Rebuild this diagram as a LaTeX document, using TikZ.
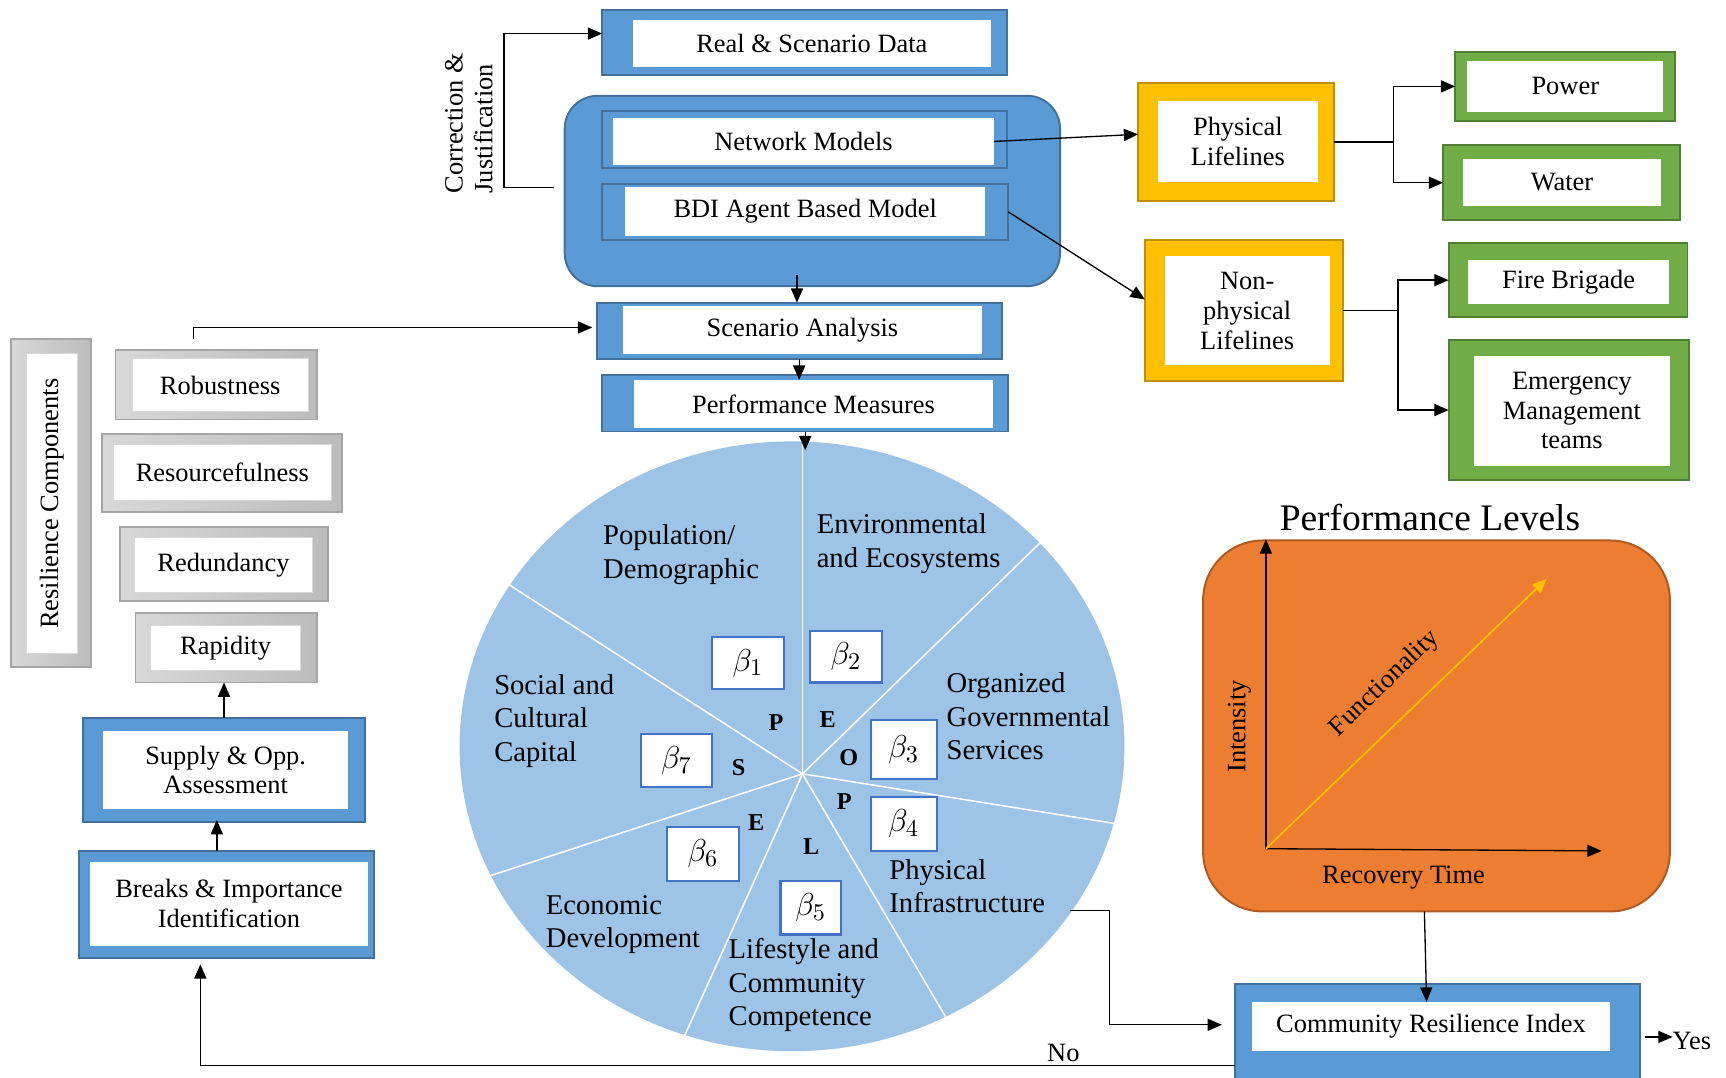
\documentclass[tikz,border=0pt]{standalone}
\usepackage{fontspec}
\setmainfont{Liberation Serif}
\usetikzlibrary{arrows.meta,calc,shapes.geometric}
\definecolor{fillblue}{HTML}{5B9BD5}
\definecolor{bordblue}{HTML}{41719C}
\definecolor{piefill}{HTML}{9DC3E6}
\definecolor{betablue}{HTML}{4472C4}
\definecolor{orangef}{HTML}{ED7D31}
\definecolor{oranged}{HTML}{AE5A21}
\definecolor{yelf}{HTML}{FFC000}
\definecolor{yeld}{HTML}{BF9000}
\definecolor{grnf}{HTML}{70AD47}
\definecolor{grnd}{HTML}{507E32}
\definecolor{greyl}{HTML}{D8D8D8}
\definecolor{greyd}{HTML}{BCBCBC}
\definecolor{greyb}{HTML}{A6A6A6}
% #1 style, #2 name, #3 x1, #4 y1, #5 x2, #6 y2, #7 text
\newcommand\mybox[7]{%
  \node[#1, minimum width={(#5-#3)*0.5pt}, minimum height={(#6-#4)*0.5pt}]
    (#2) at ({(#3+#5)/2},{(#4+#6)/2}) {#7};}
\begin{document}
\begin{tikzpicture}[x=0.5pt,y=-0.5pt,
  every node/.style={font=\fontsize{12}{13.5}\selectfont, inner sep=0pt, outer sep=0pt},
  bluebox/.style={draw=bordblue, fill=fillblue, line width=0.9pt},
  whitebox/.style={fill=white, align=center},
  greybox/.style={draw=greyb, left color=greyl, right color=greyd, line width=0.8pt},
  greyin/.style={fill=white, draw=greyl, line width=0.5pt, align=center},
  yelbox/.style={draw=yeld, fill=yelf, line width=0.9pt},
  grnbox/.style={draw=grnd, fill=grnf, line width=0.9pt},
  betabox/.style={draw=betablue, fill=white, line width=1pt, font=\fontsize{15}{17}\selectfont},
  letter/.style={font=\fontsize{11}{13}\bfseries\selectfont},
  pielabel/.style={font=\fontsize{13}{15.25}\selectfont, align=left, anchor=west},
  arr/.style={-{Triangle[length=6.5pt,width=5.5pt]}, line width=0.6pt},
]
\useasboundingbox (0,0) rectangle (1568,979);

% ---------- top column ----------
\mybox{bluebox}{rsd}{547}{9}{915}{68}{}
\mybox{whitebox}{rsdI}{575}{18}{900}{61}{Real \& Scenario Data}

\mybox{bluebox, rounded corners=15pt}{big}{513}{87}{963}{260}{}
\mybox{bluebox}{nm}{547}{101}{915}{153}{}
\mybox{whitebox}{nmI}{557}{107}{903}{150}{Network Models}
\mybox{bluebox}{bdi}{547}{167}{916}{218}{}
\mybox{whitebox}{bdiI}{568}{170}{895}{214}{BDI Agent Based Model}

\mybox{bluebox}{sa}{542}{275}{910}{326}{}
\mybox{whitebox}{saI}{566}{278}{892}{322}{Scenario Analysis}
\mybox{bluebox}{pm}{547}{341}{916}{392}{}
\mybox{whitebox}{pmI}{576}{345}{902}{389}{Performance Measures}

\node[rotate=90, align=left] (corr) at (426,112) {Correction \&\\Justification};

% ---------- left column ----------
\mybox{greybox}{rc}{10}{308}{83}{606}{}
\mybox{greyin}{rcI}{24}{321}{70}{594}{}
\node[rotate=90] (rcT) at (rcI.center) {Resilience Components};

\mybox{greybox}{rob}{105}{318}{288}{381}{}
\mybox{greyin}{robI}{120}{326}{280}{374}{Robustness}
\mybox{greybox}{res}{93}{394}{311}{465}{}
\mybox{greyin}{resI}{103}{404}{301}{455}{Resourcefulness}
\mybox{greybox}{red}{109}{479}{298}{546}{}
\mybox{greyin}{redI}{122}{488}{284}{538}{Redundancy}
\mybox{greybox}{rap}{123}{557}{288}{620}{}
\mybox{greyin}{rapI}{137}{568}{273}{609}{Rapidity}

\mybox{bluebox}{sup}{75}{652}{332}{747}{}
\mybox{whitebox}{supI}{94}{664}{316}{735}{Supply \& Opp.\\Assessment}
\mybox{bluebox}{brk}{72}{773}{340}{870}{}
\mybox{whitebox}{brkI}{82}{783}{334}{859}{Breaks \& Importance\\Identification}

% ---------- lifelines ----------
\mybox{yelbox}{phys}{1034}{75}{1212}{183}{}
\mybox{whitebox}{physI}{1052}{92}{1197}{165}{Physical\\Lifelines}
\mybox{yelbox}{np}{1040}{218}{1220}{346}{}
\mybox{whitebox}{npI}{1058}{233}{1208}{332}{Non-\\physical\\Lifelines}

\mybox{grnbox}{pow}{1322}{47}{1522}{110}{}
\mybox{whitebox}{powI}{1333}{55}{1511}{102}{Power}
\mybox{grnbox}{wat}{1311}{132}{1526}{200}{}
\mybox{whitebox}{watI}{1329}{144}{1509}{187}{Water}
\mybox{grnbox}{fire}{1316}{221}{1533}{288}{}
\mybox{whitebox}{fireI}{1334}{236}{1516}{276}{Fire Brigade}
\mybox{grnbox}{em}{1316}{309}{1534}{436}{}
\mybox{whitebox}{emI}{1339}{323}{1517}{423}{Emergency\\Management\\teams}

% ---------- pie ----------
\node[ellipse, fill=piefill, minimum width=302pt, minimum height=277pt] (pie) at (719.5,678) {};
\coordinate (pc) at (729,703);
\begin{scope}
  \clip (719.5,678) ellipse [x radius=151pt, y radius=138.5pt];
  \foreach \dx/\dy in {0/-400, 215/-209, 283/45, 129/219, -108/240, -282/92, -256/-165}
    \draw[white, line width=0.7pt] (pc) -- ++({2*\dx},{2*\dy});
\end{scope}

\node[pielabel] (lPop) at (548,504) {Population/\\Demographic};
\node[pielabel] (lEnv) at (742,494) {Environmental\\and Ecosystems};
\node[pielabel] (lOrg) at (860,651) {Organized\\Governmental\\Services};
\node[pielabel] (lPhy) at (808,805) {Physical\\Infrastructure};
\node[pielabel] (lLif) at (662,895) {Lifestyle and\\Community\\Competence};
\node[pielabel] (lEco) at (496,840) {Economic\\Development};
\node[pielabel] (lSoc) at (449,655) {Social and\\Cultural\\Capital};

\mybox{betabox}{b1}{647}{579}{712}{626}{$\beta_1$}
\mybox{betabox}{b2}{736}{573}{801}{620}{$\beta_2$}
\mybox{betabox}{b3}{791}{654}{851}{708}{$\beta_3$}
\mybox{betabox}{b4}{791}{724}{851}{773}{$\beta_4$}
\mybox{betabox}{b5}{709}{800}{764}{849}{$\beta_5$}
\mybox{betabox}{b6}{606}{751}{671}{800}{$\beta_6$}
\mybox{betabox}{b7}{582}{667}{647}{715}{$\beta_7$}

\node[letter] (cP) at (705,656) {P};
\node[letter] (cE) at (752,654) {E};
\node[letter] (cO) at (771,688) {O};
\node[letter] (cS) at (671,697) {S};
\node[letter] (cP2) at (767,728) {P};
\node[letter] (cL) at (737,769) {L};
\node[letter] (cE2) at (687,747) {E};

% ---------- performance levels ----------
\node[font=\fontsize{17}{20}\selectfont] (plt) at (1299,470) {Performance Levels};
\mybox{fill=orangef, draw=oranged, line width=0.9pt, rounded corners=27pt}{pl}{1093}{491}{1517}{828}{}
\coordinate (ax0) at (1150,771);
\coordinate (axY) at (1150,490);
\coordinate (axX) at (1455,773);
\coordinate (axF) at (1405,526);
\draw[arr] (ax0) -- (axY);
\draw[arr] (ax0) -- (axX);
\draw[arr, color=yelf, line width=0.8pt] (ax0) -- (axF);
\node[rotate=90] (int) at (1126,660) {Intensity};
\node[rotate=44] (fun) at (1258,621) {Functionality};
\node (rt) at (1275,797) {Recovery Time};

% ---------- CRI ----------
\mybox{bluebox}{cri}{1122}{894}{1490}{982}{}
\mybox{whitebox}{criI}{1137}{910}{1463}{955}{Community Resilience Index}
\node (yes) at (1537,946) {Yes};
\node (no) at (966,957) {No};

% ---------- connectors ----------
\draw[arr] ($(big.west)+(-10,-3)$) -- ++(-45,0) |- ($(rsd.west)+(0,-8)$);
\draw[arr] ($(sa.north)+(-2,-25)$) -- ($(sa.north)+(-2,0)$);
\draw[arr] (sa.south) -- (sa.south |- pmI.north);
\draw[arr] (pm.south) -- ($(pm.south |- pie.north)+(0,8)$);
\draw[arr] ($(rob.north)+(-21,-10)$) |- ($(sa.west)+(-4,-3)$);
\draw[arr] (sup.north) -- (sup.north |- rap.south);
\draw[arr] ($(brk.north)+(-9,0)$) -- ($(sup.south)+(-6.5,-2)$);

\draw[arr] (nmI.east) -- ($(phys.west)+(0,-7)$);
\draw[arr] (bdi.east) -- ($(np.west)+(0,-10)$);
\draw[arr] (phys.east) -- ++(54,0) |- (pow.west);
\draw[arr] (phys.east) -- ++(54,0) |- (wat.west);
\draw[arr] (np.east) -- ++(50,0) |- (fire.west);
\draw[arr] (np.east) -- ++(50,0) |- (em.west);

\coordinate (piout) at (972,827);
\draw[arr] (piout) -- ++(36,0) |- ($(cri.west)+(-12,-7)$);
\draw[arr] ($(pl.south)+(-11,0)$) -- ($(criI.north)+(-4,0)$);
\coordinate (yesin) at ($(cri.east)+(4,4)$);
\draw[arr] (yesin) -- (yesin -| yes.west);
\draw[arr] ($(cri.south west)+(0,-14)$) -| ($(brk.south)+(-24,6)$);
\end{tikzpicture}
\end{document}
